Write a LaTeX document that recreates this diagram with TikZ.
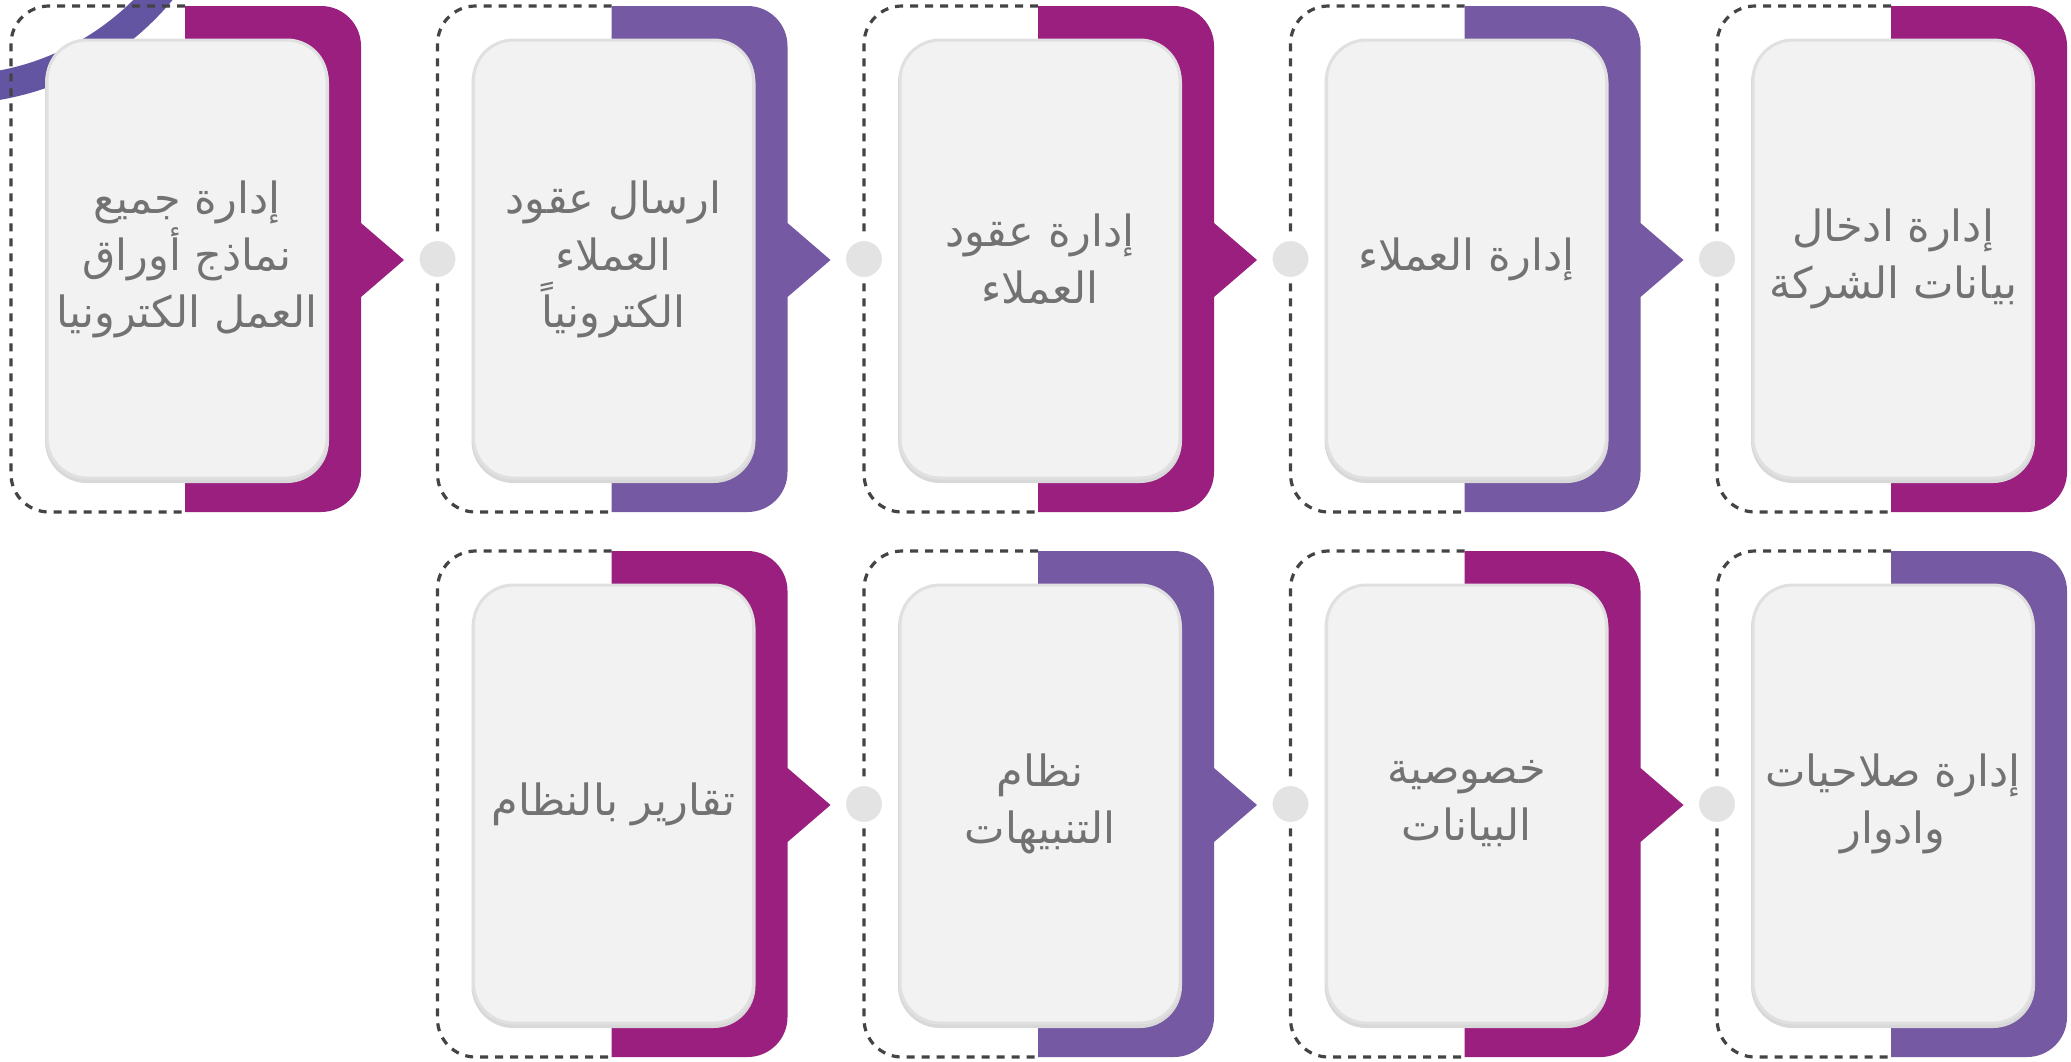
\documentclass[tikz,border=0pt]{standalone}
\usepackage{fontspec}
\newfontfamily\arabicfont[Script=Arabic]{DejaVu Sans}
\TeXXeTstate=1
\definecolor{mag}{HTML}{9A1F7F}
\definecolor{pur}{HTML}{7559A2}
\definecolor{arcc}{HTML}{6455A3}
\definecolor{txt}{HTML}{727272}
\definecolor{cardfill}{HTML}{F2F2F2}
\definecolor{cardline}{HTML}{E0E0E0}
\definecolor{cardshadow}{HTML}{D8D8D8}
\definecolor{dotc}{HTML}{E3E3E3}
\definecolor{dashc}{HTML}{444444}
\newcommand\artext[1]{\beginR #1\endR}
% #1 panel left, #2 top, #3 colour, #4 pointer length
\newcommand\panelshape[4]{%
  \fill[#3] (#1,#2) -- ({#1+136},#2) arc[start angle=270,end angle=360,radius=40]
    -- ({#1+176},{#2+217}) -- ({#1+176+#4},{#2+254}) -- ({#1+176},{#2+291})
    -- ({#1+176},{#2+466}) arc[start angle=0,end angle=90,radius=40]
    -- (#1,{#2+506}) -- cycle;}
\newcommand\dashframe[2]{%
  \draw[dashline] (#1,#2) -- ({#1-174},#2) -- ({#1-174},{#2+506}) -- (#1,{#2+506});}
\tikzset{
  dashline/.style={draw=dashc, line width=3.2pt, dash pattern=on 8pt off 7pt, rounded corners=38pt},
  card/.style={rectangle, rounded corners=40pt, fill=cardfill, draw=cardline, line width=3pt,
    preaction={draw=cardshadow, line width=4pt, transform canvas={yshift=-3pt}},
    minimum width=280pt, minimum height=438pt, inner sep=0pt, align=center, text=txt,
    font=\arabicfont\fontsize{43}{57}\selectfont},
  dotnode/.style={circle, fill=dotc, draw=white, line width=6pt, minimum size=42pt, inner sep=0pt},
}
\begin{document}
\begin{tikzpicture}[x=1pt,y=-1pt]
\useasboundingbox (0,0) rectangle (2071,1061);
\fill[white] (0,0) rectangle (2071,1061);
% decorative ring
\draw[arcc, line width=29pt] (-49,-184) circle[radius=273.5];
% top row
\dashframe{185}{6}
\panelshape{185}{6}{mag}{43}
\node[card] (t0) at (187,259) {\artext{إدارة جميع}\\\artext{نماذج أوراق}\\\artext{العمل الكترونيا}};
\dashframe{611.5}{6}
\panelshape{611.5}{6}{pur}{43}
\node[card] (t1) at (613.5,259) {\artext{ارسال عقود}\\\artext{العملاء}\\\artext{الكترونياً}};
\dashframe{1038}{6}
\panelshape{1038}{6}{mag}{43}
\node[card] (t2) at (1040,259) {\artext{إدارة عقود}\\\artext{العملاء}};
\dashframe{1464.5}{6}
\panelshape{1464.5}{6}{pur}{43}
\node[card] (t3) at (1466.5,259) {\artext{إدارة العملاء}};
\dashframe{1891}{6}
\panelshape{1891}{6}{mag}{0}
\node[card] (t4) at (1893,259) {\artext{إدارة ادخال}\\\artext{بيانات الشركة}};
% bottom row
\dashframe{611.5}{551}
\panelshape{611.5}{551}{mag}{43}
\node[card] (b1) at (613.5,804) {\artext{تقارير بالنظام}};
\dashframe{1038}{551}
\panelshape{1038}{551}{pur}{43}
\node[card] (b2) at (1040,804) {\artext{نظام}\\\artext{التنبيهات}};
\dashframe{1464.5}{551}
\panelshape{1464.5}{551}{mag}{43}
\node[card] (b3) at (1466.5,804) {\artext{خصوصية}\\\artext{البيانات}};
\dashframe{1891}{551}
\panelshape{1891}{551}{pur}{0}
\node[card] (b4) at (1893,804) {\artext{إدارة صلاحيات}\\\artext{وادوار}};
% dots
\node[dotnode] (d1) at (437.5,259) {};
\node[dotnode] (d2) at (864,259) {};
\node[dotnode] (d3) at (1290.5,259) {};
\node[dotnode] (d4) at (1717,259) {};
\node[dotnode] (e2) at (864,804) {};
\node[dotnode] (e3) at (1290.5,804) {};
\node[dotnode] (e4) at (1717,804) {};
\end{tikzpicture}
\end{document}
